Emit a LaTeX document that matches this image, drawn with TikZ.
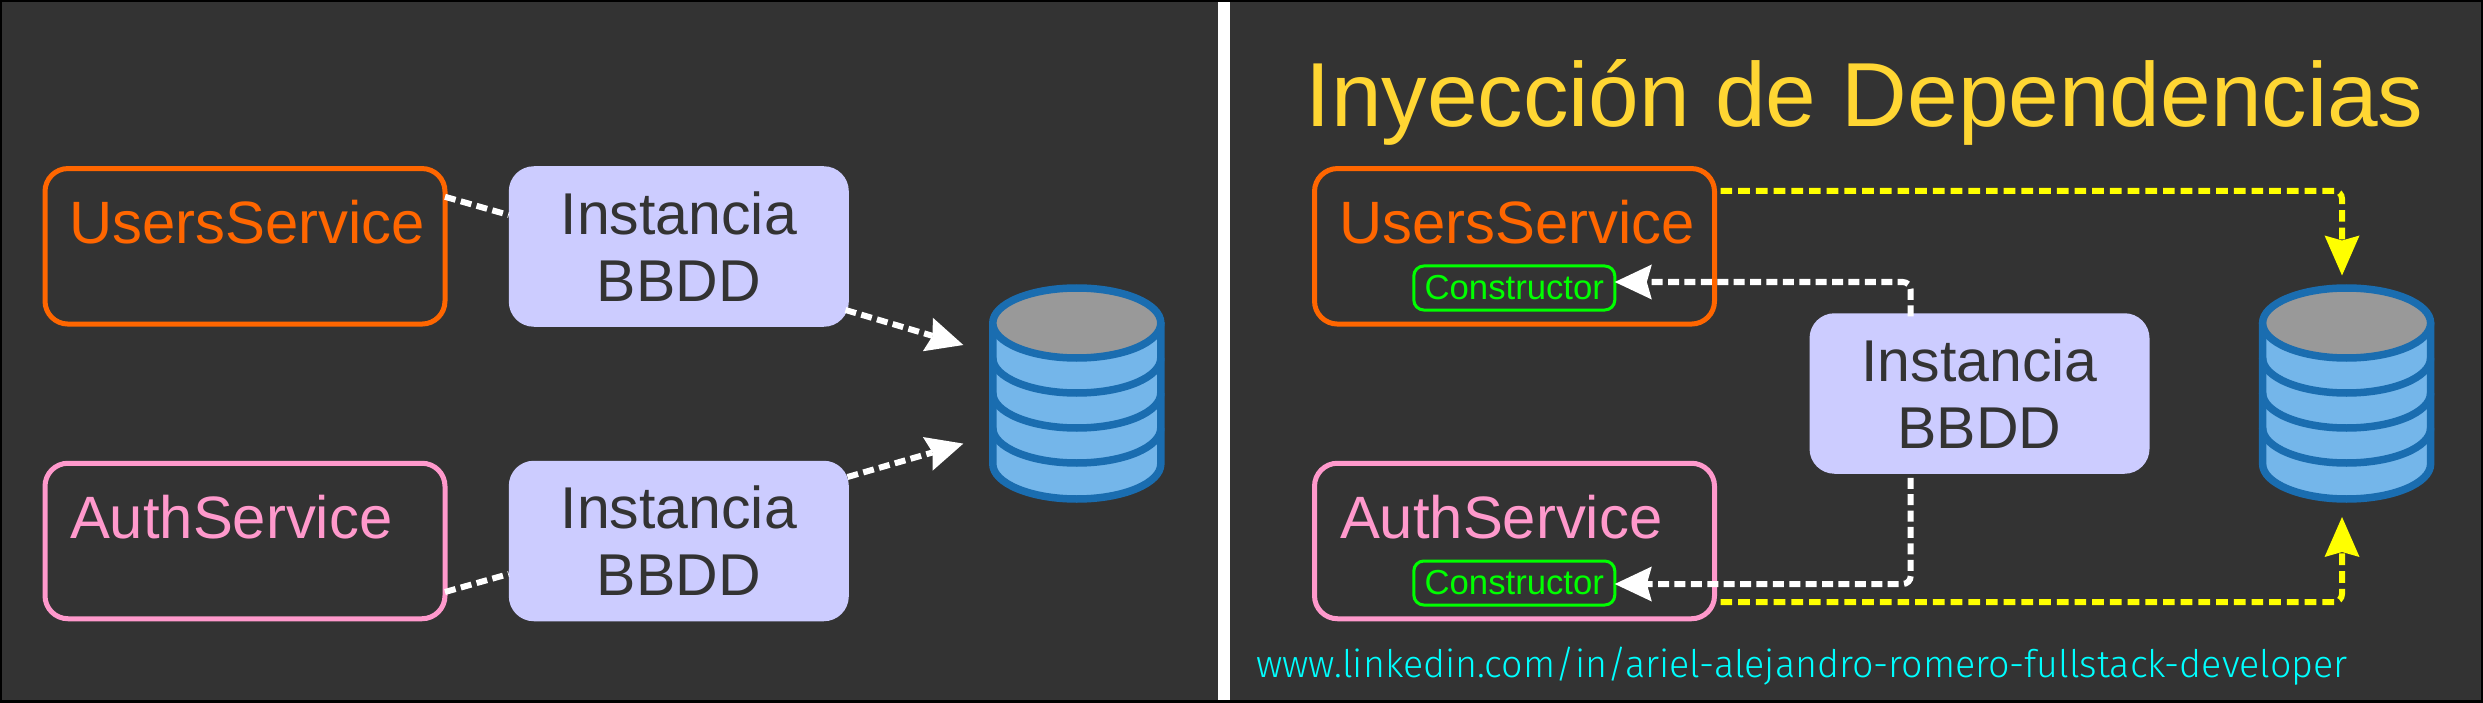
\documentclass[tikz,border=0pt]{standalone}
\usepackage{fontspec}
\setmainfont{Liberation Sans}
\newfontfamily\urlfont[FakeStretch=0.991]{Fira Sans Light}
\usetikzlibrary{arrows.meta}
\definecolor{panel}{HTML}{333333}
\definecolor{orangeb}{HTML}{FF6600}
\definecolor{pinkb}{HTML}{FF99CC}
\definecolor{lilac}{HTML}{CCCCFF}
\definecolor{titley}{HTML}{FFD633}
\definecolor{dbline}{HTML}{1A6DB0}
\definecolor{dbfill}{HTML}{74B6EA}
\definecolor{dbtop}{HTML}{999999}
\definecolor{greenb}{HTML}{00FF00}
\definecolor{yell}{HTML}{FFFF00}
\definecolor{cyanb}{HTML}{00FFFF}
\tikzset{
  svcbox/.style={draw=#1,line width=5pt,rounded corners=23pt,minimum width=400pt,minimum height=155.5pt,inner sep=0pt,outer sep=0pt},
  svclabel/.style={text=#1,anchor=base west,inner sep=0pt,outer sep=0pt,font=\fontsize{59.8}{67}\selectfont},
  instbox/.style={fill=lilac,text=panel,rounded corners=25pt,minimum width=340pt,minimum height=160.5pt,inner sep=0pt,outer sep=0pt,align=center,font=\fontsize{59}{67}\selectfont},
  ctorbox/.style={draw=greenb,text=greenb,line width=3pt,rounded corners=10pt,minimum width=201pt,minimum height=44pt,inner sep=0pt,outer sep=0pt,font=\fontsize{34.7}{40}\selectfont},
  whiteflow/.style={draw=white,line width=6pt,dash pattern=on 11pt off 5.4pt,rounded corners=8pt,-{Stealth[length=37pt,width=35pt,inset=5pt,line width=0pt]}},
  whiteplain/.style={draw=white,line width=6pt,dash pattern=on 11pt off 5.4pt},
  yellowflow/.style={draw=yell,line width=6pt,dash pattern=on 11.7pt off 6pt,rounded corners=8pt,-{Stealth[length=40pt,width=35pt,inset=5pt,line width=0pt]}},
  dbbody/.style={draw=dbline,line width=7.5pt,fill=dbfill,line join=round},
  dbband/.style={draw=dbline,line width=7.5pt},
  dbcap/.style={draw=dbline,line width=7.5pt,fill=dbtop}
}
\newcommand{\dbicon}[2]{%
  \begin{scope}[shift={(#1,#2)}]
    \path[dbbody] (-84,0) -- (-84,141) .. controls (-84,160.3) and (-46.4,176) .. (0,176)
       .. controls (46.4,176) and (84,160.3) .. (84,141) -- (84,0) -- cycle;
    \foreach \s in {35,70,105}{
      \path[dbband] (-84,\s) .. controls (-84,\s+19.3) and (-46.4,\s+35) .. (0,\s+35)
        .. controls (46.4,\s+35) and (84,\s+19.3) .. (84,\s);
    }
    \path[dbcap] (0,0) ellipse [x radius=84pt,y radius=35pt];
  \end{scope}}
\begin{document}
\begin{tikzpicture}[x=1pt,y=-1pt]
\useasboundingbox (0,0) rectangle (2483,703);
\fill[black] (0,0) rectangle (2483,703);
\fill[panel] (2,2) rectangle (2481,700);
\fill[white] (1218,2) rectangle (1230,700);

% left panel
\node[svcbox=orangeb] (lusers) at (245,246.3) {};
\node[svcbox=pinkb] (lauth) at (245,541) {};
\node[svclabel=orangeb] (luserst) at (69.5,244) {UsersService};
\node[svclabel=pinkb] (lautht) at (70,538.5) {AuthService};
\node[instbox] (linst1) at (678.8,246.5) {Instancia\\BBDD};
\node[instbox] (linst2) at (678.8,541) {Instancia\\BBDD};
\dbicon{1076.8}{323}
\coordinate (ltip1) at (963.3,345);
\coordinate (ltip2) at (963.3,443.6);
\path[whiteplain] ([yshift=49.5pt]lusers.east) -- ([yshift=31.5pt]linst1.west);
\path[whiteplain] ([yshift=-51pt]lauth.east) -- ([yshift=-33pt]linst2.west);
\path[whiteflow] ([xshift=-3.3pt,yshift=-63.5pt]linst1.east) -- (ltip1);
\path[whiteflow] ([xshift=-1.3pt,yshift=64pt]linst2.east) -- (ltip2);

% right panel
\node[anchor=base west,inner sep=0pt,text=titley,font=\fontsize{91}{100}\selectfont] (title) at (1305.5,126.5) {Inyección de Dependencias};
\node[svcbox=orangeb] (rusers) at (1514.5,246.3) {};
\node[svcbox=pinkb] (rauth) at (1514.5,541) {};
\node[svclabel=orangeb] (ruserst) at (1339.5,244) {UsersService};
\node[svclabel=pinkb] (rautht) at (1340,538.5) {AuthService};
\node[ctorbox] (c1) at (1514.3,288) {Constructor};
\node[ctorbox] (c2) at (1514.3,583) {Constructor};
\node[instbox] (rinst) at (1979.5,393.5) {Instancia\\BBDD};
\dbicon{2346.6}{323}
\coordinate (ytip1) at (2342,275.5);
\coordinate (ytip2) at (2342,517);
\path[whiteflow] ([xshift=-68.8pt,yshift=-3pt]rinst.north) |- ([yshift=6pt]c1.east);
\path[whiteflow] ([xshift=-68.8pt,yshift=-4pt]rinst.south) |- ([yshift=-1pt]c2.east);
\path[yellowflow] ([xshift=6pt,yshift=55.5pt]rusers.east) -| (ytip1);
\path[yellowflow] ([xshift=6pt,yshift=-61pt]rauth.east) -| (ytip2);
\node[anchor=base west,inner sep=0pt,text=cyanb,font=\urlfont\fontsize{38}{44}\selectfont] (url) at (1256,677.5) {www.linkedin.com/in/ariel-alejandro-romero-fullstack-developer};
\end{tikzpicture}
\end{document}
